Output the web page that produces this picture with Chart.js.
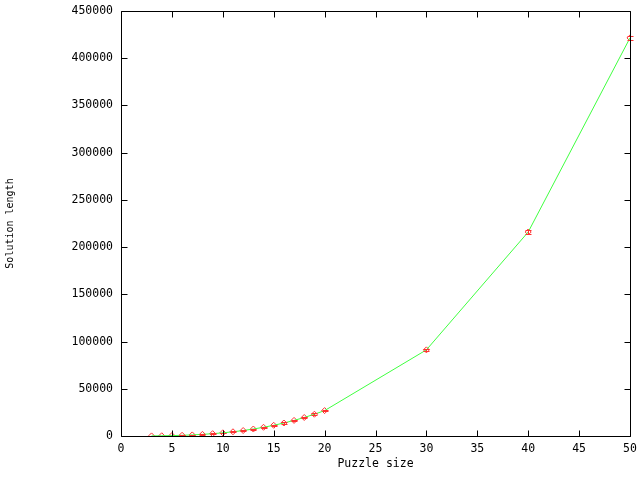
<!DOCTYPE html>
<html>
<head>
<meta charset="utf-8">
<script src="https://cdn.jsdelivr.net/npm/chart.js@4/dist/chart.umd.min.js"></script>
<style>
html,body{margin:0;padding:0;background:#fff;}
#wrap{width:640px;height:480px;}
</style>
</head>
<body>
<div id="wrap"><canvas id="c" width="640" height="480"></canvas></div>
<script>
const puzzleSizes = [3,4,5,6,7,8,9,10,11,12,13,14,15,16,17,18,19,20,30,40,50];
const solutionLengths = [90,220,420,730,1150,1720,2450,3360,4470,5800,7380,9220,11340,13760,16500,19600,23050,26900,91200,216000,421500];
const solutionErrors = [40,60,90,120,160,200,260,320,380,440,500,560,620,680,740,800,860,920,1200,1600,2000];
const xTicks = [0,5,10,15,20,25,30,35,40,45,50];
const yTicks = [0,50000,100000,150000,200000,250000,300000,350000,400000,450000];

const FONT = "'DejaVu Sans Mono', 'Liberation Mono', monospace";

const pts = puzzleSizes.map((x,i)=>({x:x,y:solutionLengths[i]}));

const boxPlugin = {
  id: 'gnuBox',
  afterDatasetsDraw(chart) {
    const ctx = chart.ctx;
    const xs = chart.scales.x, ys = chart.scales.y;
    const a = chart.chartArea;
    ctx.save();
    ctx.strokeStyle = '#ff3030';
    ctx.lineWidth = 1;
    puzzleSizes.forEach((x,i)=>{
      const px = Math.round(xs.getPixelForValue(x)) + 0.5;
      const y1 = Math.round(ys.getPixelForValue(solutionLengths[i]-solutionErrors[i])) + 0.5;
      const y2 = Math.round(ys.getPixelForValue(solutionLengths[i]+solutionErrors[i])) + 0.5;
      ctx.beginPath();
      ctx.moveTo(px,y1); ctx.lineTo(px,y2);
      ctx.moveTo(px-3,y1); ctx.lineTo(px+3,y1);
      ctx.moveTo(px-3,y2); ctx.lineTo(px+3,y2);
      ctx.stroke();
    });
    ctx.strokeStyle = '#000';
    ctx.lineWidth = 1;
    const L = Math.round(a.left)+0.5, R = Math.round(a.right)+0.5, T = Math.round(a.top)+0.5, B = Math.round(a.bottom)+0.5;
    ctx.beginPath();
    ctx.rect(L, T, R-L, B-T);
    const tl = 6;
    xTicks.forEach(v=>{
      const p = Math.round(xs.getPixelForValue(v))+0.5;
      ctx.moveTo(p,B); ctx.lineTo(p,B-tl);
      ctx.moveTo(p,T); ctx.lineTo(p,T+tl);
    });
    yTicks.forEach(v=>{
      const p = Math.round(ys.getPixelForValue(v))+0.5;
      ctx.moveTo(L,p); ctx.lineTo(L+tl,p);
      ctx.moveTo(R,p); ctx.lineTo(R-tl,p);
    });
    ctx.stroke();
    ctx.restore();
  }
};

new Chart(document.getElementById('c'), {
  type: 'scatter',
  data: {
    datasets: [
      {
        label: 'line',
        data: pts,
        showLine: true,
        borderColor: '#40ff40',
        borderWidth: 1,
        pointRadius: 0,
        tension: 0,
        order: 1
      },
      {
        label: 'points',
        data: pts,
        showLine: false,
        pointStyle: 'rectRot',
        pointRadius: 3,
        pointBorderColor: '#ff3030',
        pointBackgroundColor: 'rgba(0,0,0,0)',
        pointBorderWidth: 1,
        order: 2
      }
    ]
  },
  options: {
    responsive: false,
    animation: false,
    devicePixelRatio: 1,
    layout: { padding: { top: 11, right: 10, left: 0, bottom: 0 } },
    plugins: { legend: { display: false }, tooltip: { enabled: false } },
    scales: {
      x: {
        type: 'linear',
        min: 0, max: 50,
        afterBuildTicks: s => { s.ticks = xTicks.map(v=>({value:v})); },
        afterFit: s => { s.height = 44; s.paddingLeft = 0; s.paddingRight = 0; },
        grid: { display: false, drawTicks: false },
        border: { display: false },
        ticks: { color: '#000', font: { family: FONT, size: 11.5 }, padding: 6, maxRotation: 0, callback: v => String(v) },
        title: { display: true, text: 'Puzzle size', color: '#000', font: { family: FONT, size: 11.5 }, padding: { top: 0, bottom: 9 } }
      },
      y: {
        type: 'linear',
        min: 0, max: 450000,
        afterBuildTicks: s => { s.ticks = yTicks.map(v=>({value:v})); },
        afterFit: s => { s.width = 121; s.paddingTop = 0; s.paddingBottom = 0; },
        grid: { display: false, drawTicks: false },
        border: { display: false },
        ticks: { color: '#000', font: { family: FONT, size: 11.5 }, padding: 8, callback: v => String(v) },
        title: { display: true, text: 'Solution length', color: '#000', font: { family: FONT, size: 10 }, padding: { top: 4, bottom: 0 } }
      }
    }
  },
  plugins: [boxPlugin]
});
</script>
</body>
</html>
